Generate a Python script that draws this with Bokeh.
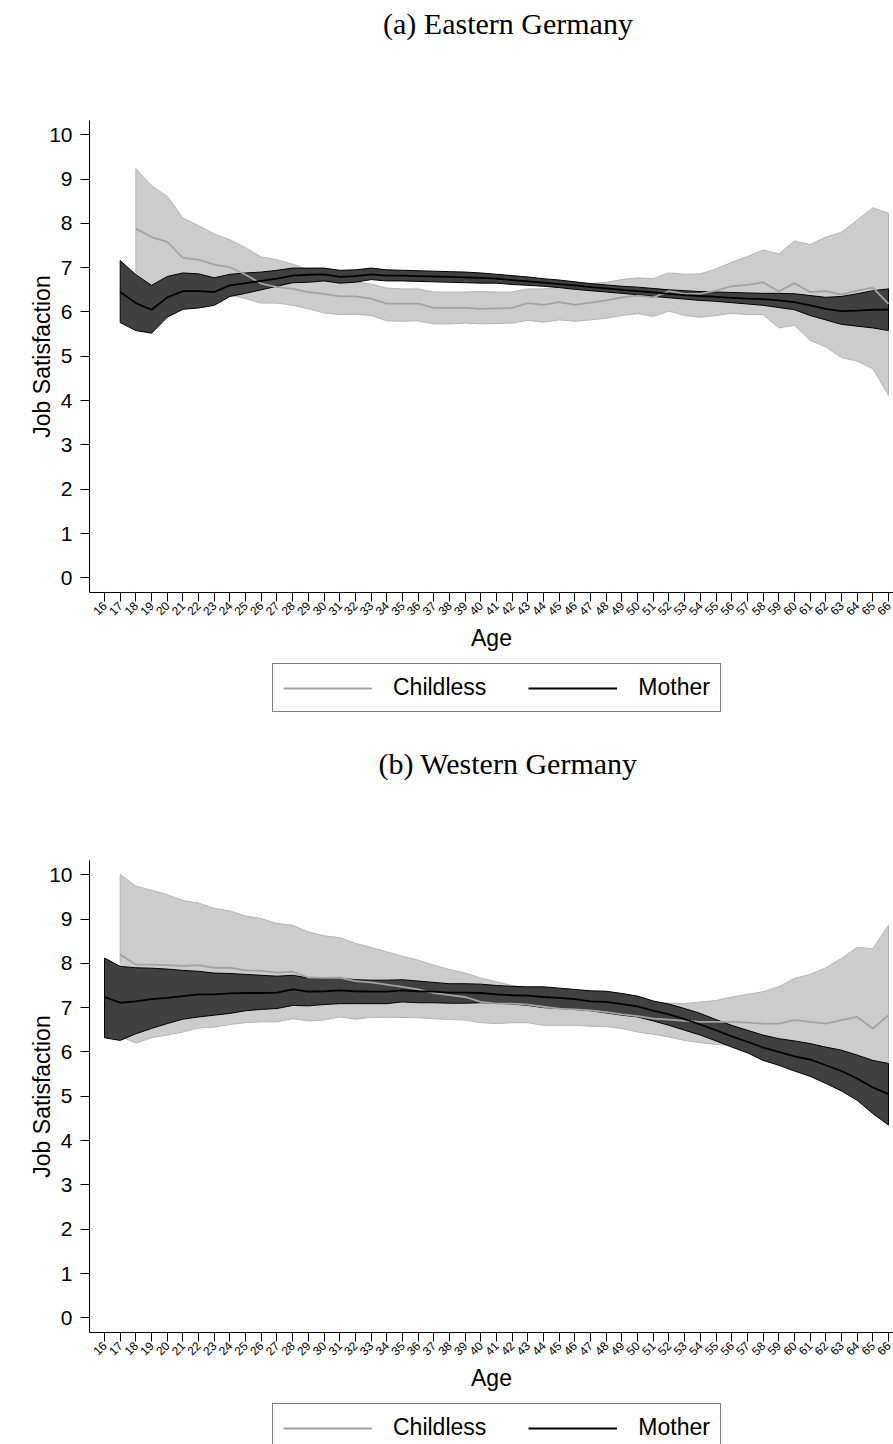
import math
from bokeh.plotting import figure
from bokeh.models import Legend, LegendItem, FixedTicker, Range1d
from bokeh.layouts import column
from bokeh.embed import file_html
from bokeh.resources import INLINE
from bokeh.core.properties import value

# ---------------- data ----------------
x_ticks = list(range(16, 67))
y_ticks = [0, 1, 2, 3, 4, 5, 6, 7, 8, 9, 10]

# Eastern Germany - Mother (ages 17..66)
east_mother_age = list(range(17, 67))
east_mother_mean = [6.45, 6.20, 6.05, 6.33, 6.47, 6.47, 6.45, 6.60, 6.65, 6.70,
                    6.75, 6.82, 6.84, 6.85, 6.79, 6.81, 6.85, 6.82, 6.82, 6.81,
                    6.80, 6.79, 6.78, 6.77, 6.75, 6.72, 6.69, 6.66, 6.63, 6.60,
                    6.56, 6.53, 6.50, 6.47, 6.44, 6.41, 6.38, 6.36, 6.34, 6.32,
                    6.30, 6.29, 6.26, 6.22, 6.15, 6.07, 6.02, 6.03, 6.05, 6.05]
east_mother_hi = [7.16, 6.84, 6.60, 6.80, 6.88, 6.86, 6.77, 6.85, 6.88, 6.90,
                  6.94, 6.99, 6.99, 6.99, 6.94, 6.95, 6.99, 6.95, 6.94, 6.93,
                  6.92, 6.91, 6.90, 6.88, 6.85, 6.82, 6.79, 6.75, 6.72, 6.68,
                  6.64, 6.61, 6.58, 6.56, 6.53, 6.50, 6.48, 6.46, 6.45, 6.44,
                  6.43, 6.42, 6.42, 6.41, 6.37, 6.33, 6.35, 6.41, 6.48, 6.52]
east_mother_lo = [5.76, 5.58, 5.52, 5.88, 6.06, 6.09, 6.15, 6.35, 6.42, 6.50,
                  6.58, 6.66, 6.67, 6.70, 6.65, 6.67, 6.73, 6.70, 6.70, 6.69,
                  6.68, 6.67, 6.66, 6.65, 6.65, 6.62, 6.60, 6.58, 6.55, 6.51,
                  6.48, 6.45, 6.42, 6.39, 6.35, 6.32, 6.29, 6.26, 6.24, 6.21,
                  6.18, 6.15, 6.10, 6.05, 5.92, 5.82, 5.72, 5.68, 5.64, 5.58]

# Eastern Germany - Childless (ages 18..66)
east_child_age = list(range(18, 67))
east_child_mean = [7.88, 7.69, 7.58, 7.22, 7.18, 7.07, 7.01, 6.84, 6.64, 6.56,
                   6.52, 6.45, 6.41, 6.35, 6.35, 6.30, 6.19, 6.19, 6.19, 6.09,
                   6.09, 6.09, 6.07, 6.08, 6.09, 6.20, 6.16, 6.22, 6.16, 6.21,
                   6.26, 6.33, 6.37, 6.33, 6.47, 6.41, 6.41, 6.48, 6.58, 6.61,
                   6.67, 6.46, 6.65, 6.45, 6.47, 6.39, 6.48, 6.55, 6.18]
east_child_hi = [9.23, 8.85, 8.61, 8.12, 7.95, 7.76, 7.63, 7.45, 7.24, 7.18,
                 7.08, 6.95, 6.82, 6.72, 6.68, 6.63, 6.54, 6.52, 6.52, 6.45,
                 6.45, 6.45, 6.46, 6.45, 6.45, 6.52, 6.52, 6.56, 6.58, 6.64,
                 6.67, 6.73, 6.77, 6.75, 6.88, 6.85, 6.86, 6.97, 7.12, 7.25,
                 7.40, 7.31, 7.60, 7.52, 7.69, 7.80, 8.07, 8.35, 8.23]
east_child_lo = [6.50, 6.50, 6.52, 6.35, 6.40, 6.38, 6.38, 6.30, 6.20, 6.20,
                 6.15, 6.07, 5.98, 5.94, 5.95, 5.92, 5.80, 5.79, 5.80, 5.73,
                 5.73, 5.75, 5.73, 5.74, 5.75, 5.81, 5.77, 5.82, 5.79, 5.82,
                 5.86, 5.92, 5.96, 5.90, 6.02, 5.92, 5.88, 5.92, 5.97, 5.94,
                 5.94, 5.64, 5.70, 5.36, 5.21, 4.97, 4.89, 4.72, 4.12]

# Western Germany - Mother (ages 16..66)
west_mother_age = list(range(16, 67))
west_mother_mean = [7.24, 7.11, 7.14, 7.19, 7.22, 7.26, 7.30, 7.30, 7.32, 7.33,
                    7.33, 7.34, 7.41, 7.36, 7.37, 7.39, 7.37, 7.36, 7.36, 7.39,
                    7.37, 7.36, 7.34, 7.34, 7.33, 7.30, 7.28, 7.27, 7.24, 7.22,
                    7.19, 7.14, 7.13, 7.08, 7.03, 6.93, 6.85, 6.74, 6.62, 6.49,
                    6.35, 6.23, 6.10, 6.00, 5.90, 5.83, 5.70, 5.57, 5.40, 5.20,
                    5.05]
west_mother_hi = [8.12, 7.93, 7.90, 7.89, 7.87, 7.84, 7.82, 7.78, 7.77, 7.75,
                  7.73, 7.71, 7.73, 7.67, 7.67, 7.67, 7.63, 7.62, 7.62, 7.63,
                  7.60, 7.57, 7.54, 7.54, 7.53, 7.50, 7.48, 7.47, 7.47, 7.44,
                  7.41, 7.38, 7.37, 7.32, 7.26, 7.15, 7.08, 6.98, 6.87, 6.73,
                  6.60, 6.49, 6.38, 6.30, 6.25, 6.19, 6.11, 6.04, 5.93, 5.81,
                  5.74]
west_mother_lo = [6.32, 6.26, 6.41, 6.53, 6.64, 6.74, 6.79, 6.83, 6.87, 6.93,
                  6.96, 6.98, 7.05, 7.04, 7.07, 7.09, 7.09, 7.09, 7.09, 7.13,
                  7.11, 7.11, 7.10, 7.10, 7.11, 7.10, 7.08, 7.05, 7.00, 6.98,
                  6.96, 6.93, 6.88, 6.83, 6.79, 6.70, 6.60, 6.49, 6.38, 6.25,
                  6.11, 5.98, 5.81, 5.70, 5.57, 5.45, 5.29, 5.12, 4.91, 4.61,
                  4.35]

# Western Germany - Childless (ages 17..66)
west_child_age = list(range(17, 67))
west_child_mean = [8.20, 7.97, 7.97, 7.96, 7.94, 7.96, 7.90, 7.90, 7.84, 7.83,
                   7.79, 7.81, 7.68, 7.67, 7.68, 7.60, 7.57, 7.52, 7.47, 7.41,
                   7.33, 7.28, 7.24, 7.13, 7.09, 7.09, 7.07, 7.02, 6.98, 6.96,
                   6.94, 6.90, 6.85, 6.81, 6.75, 6.73, 6.70, 6.68, 6.68, 6.68,
                   6.66, 6.64, 6.64, 6.72, 6.68, 6.64, 6.72, 6.79, 6.53, 6.83]
west_child_hi = [10.01, 9.74, 9.65, 9.55, 9.42, 9.36, 9.24, 9.18, 9.07, 9.01,
                 8.90, 8.86, 8.71, 8.62, 8.58, 8.45, 8.36, 8.26, 8.16, 8.07,
                 7.96, 7.86, 7.78, 7.67, 7.58, 7.50, 7.45, 7.40, 7.35, 7.30,
                 7.26, 7.22, 7.18, 7.14, 7.11, 7.10, 7.09, 7.13, 7.16, 7.24,
                 7.30, 7.36, 7.47, 7.66, 7.75, 7.90, 8.11, 8.36, 8.33, 8.86]
west_child_lo = [6.35, 6.20, 6.32, 6.38, 6.45, 6.54, 6.56, 6.62, 6.66, 6.68,
                 6.68, 6.75, 6.70, 6.72, 6.79, 6.74, 6.78, 6.78, 6.78, 6.77,
                 6.75, 6.73, 6.72, 6.66, 6.64, 6.66, 6.66, 6.60, 6.60, 6.60,
                 6.58, 6.57, 6.53, 6.45, 6.40, 6.34, 6.26, 6.21, 6.17, 6.15,
                 6.02, 5.92, 5.81, 5.78, 5.61, 5.38, 5.33, 5.22, 4.73, 4.80]

titles = ["(a) Eastern Germany", "(b) Western Germany"]
series_labels = ["Childless", "Mother"]
x_label = "Age"
y_label = "Job Satisfaction"

# ---------------- layout constants ----------------
W = 893
X0, X1 = 15.043, 66.319
Y0, Y1 = -0.33, 10.32
LEFT, FH = 89, 472
TITLE_H = 100
PLOT_H = 560
PLOT_TOP = 20

SANS = "Liberation Sans"
SERIF = "Liberation Serif"

GREY_FILL = "#cccccc"
GREY_EDGE = "#b4b4b4"
GREY_LINE = "#a3a3a3"
DARK_FILL = "#404040"
MEAN_W = 1.8


def bare(height, xr, yr):
    p = figure(width=W, height=height, output_backend="svg", toolbar_location=None,
               title=None, x_range=xr, y_range=yr,
               x_axis_location=None, y_axis_location=None,
               min_border=0, min_border_left=LEFT, min_border_right=0,
               min_border_top=0, min_border_bottom=0)
    p.outline_line_color = None
    p.background_fill_color = "white"
    p.border_fill_color = "white"
    p.grid.visible = False
    return p


def title_fig(title):
    # frame spans page x from LEFT to W; y measured from the top of this strip
    p = bare(TITLE_H, Range1d(LEFT, W), Range1d(TITLE_H, 0))
    p.text(x=[507.5], y=[23], text=[title], text_font=value(SERIF),
           text_font_size=value("30px"), text_align="center",
           text_baseline="alphabetic", text_color="black")
    return p


def plot_fig(m_age, m_mean, m_lo, m_hi, c_age, c_mean, c_lo, c_hi):
    p = figure(width=W, height=PLOT_H, output_backend="svg", toolbar_location=None,
               x_range=Range1d(X0, X1), y_range=Range1d(Y0, Y1),
               min_border_left=LEFT, min_border_right=0, min_border_top=PLOT_TOP,
               min_border_bottom=PLOT_H - PLOT_TOP - FH)
    p.background_fill_color = "white"
    p.border_fill_color = "white"
    p.outline_line_color = None
    p.xgrid.visible = False
    p.ygrid.visible = False

    p.xaxis.ticker = FixedTicker(ticks=x_ticks)
    p.xaxis.major_label_orientation = math.pi / 4
    p.xaxis.major_label_text_font = SANS
    p.xaxis.major_label_text_font_size = "12px"
    p.xaxis.major_label_standoff = 2
    p.xaxis.axis_label = x_label
    p.xaxis.axis_label_standoff = 3
    p.yaxis.ticker = FixedTicker(ticks=y_ticks)
    p.yaxis.major_label_text_font = SANS
    p.yaxis.major_label_text_font_size = "21px"
    p.yaxis.major_label_standoff = 8
    p.yaxis.axis_label = y_label
    p.yaxis.axis_label_standoff = -9
    for ax in (p.xaxis, p.yaxis):
        ax.major_tick_out = 9
        ax.major_tick_in = 0
        ax.minor_tick_out = 0
        ax.minor_tick_in = 0
        ax.axis_line_color = "black"
        ax.major_tick_line_color = "black"
        ax.major_label_text_color = "black"
        ax.axis_line_width = 1
        ax.axis_label_text_font = SANS
        ax.axis_label_text_font_size = "23px"
        ax.axis_label_text_font_style = "normal"
        ax.axis_label_text_color = "black"

    # confidence bands (polygon: upper bound then reversed lower bound)
    p.patch(c_age + c_age[::-1], c_hi + c_lo[::-1], fill_color=GREY_FILL,
            line_color=GREY_EDGE, line_width=1)
    p.patch(m_age + m_age[::-1], m_hi + m_lo[::-1], fill_color=DARK_FILL,
            line_color="black", line_width=1)
    # means
    p.line(c_age, c_mean, line_color=GREY_LINE, line_width=MEAN_W)
    p.line(m_age, m_mean, line_color="black", line_width=MEAN_W)
    return p


def legend_fig(height, top, c_age, c_mean, m_age, m_mean):
    # the series lie outside this strip's ranges; only their legend keys show
    p = bare(height, Range1d(0, 1), Range1d(0, 1))
    r_c = p.line(c_age, c_mean, line_color=GREY_LINE, line_width=MEAN_W)
    r_m = p.line(m_age, m_mean, line_color="black", line_width=MEAN_W)
    lh = 45
    legend = Legend(items=[LegendItem(label=series_labels[0], renderers=[r_c]),
                           LegendItem(label=series_labels[1], renderers=[r_m])],
                    location=(272 - LEFT, height - top - lh), orientation="horizontal")
    legend.border_line_color = "black"
    legend.border_line_width = 1
    legend.background_fill_color = "white"
    legend.background_fill_alpha = 1
    legend.padding = 10
    legend.margin = 0
    legend.spacing = 42
    legend.glyph_width = 89
    legend.glyph_height = 24
    legend.label_height = 24
    legend.label_standoff = 21
    legend.label_text_font = SANS
    legend.label_text_font_size = "23px"
    legend.label_text_color = "black"
    legend.label_text_baseline = "middle"
    p.add_layout(legend)
    return p


parts = [
    title_fig(titles[0]),
    plot_fig(east_mother_age, east_mother_mean, east_mother_lo, east_mother_hi,
             east_child_age, east_child_mean, east_child_lo, east_child_hi),
    legend_fig(80, 7, east_child_age, east_child_mean, east_mother_age, east_mother_mean),
    title_fig(titles[1]),
    plot_fig(west_mother_age, west_mother_mean, west_mother_lo, west_mother_hi,
             west_child_age, west_child_mean, west_child_lo, west_child_hi),
    legend_fig(44, 7, west_child_age, west_child_mean, west_mother_age, west_mother_mean),
]

layout = column(*parts, spacing=0)
open("out.html", "w").write(file_html(layout, INLINE))
